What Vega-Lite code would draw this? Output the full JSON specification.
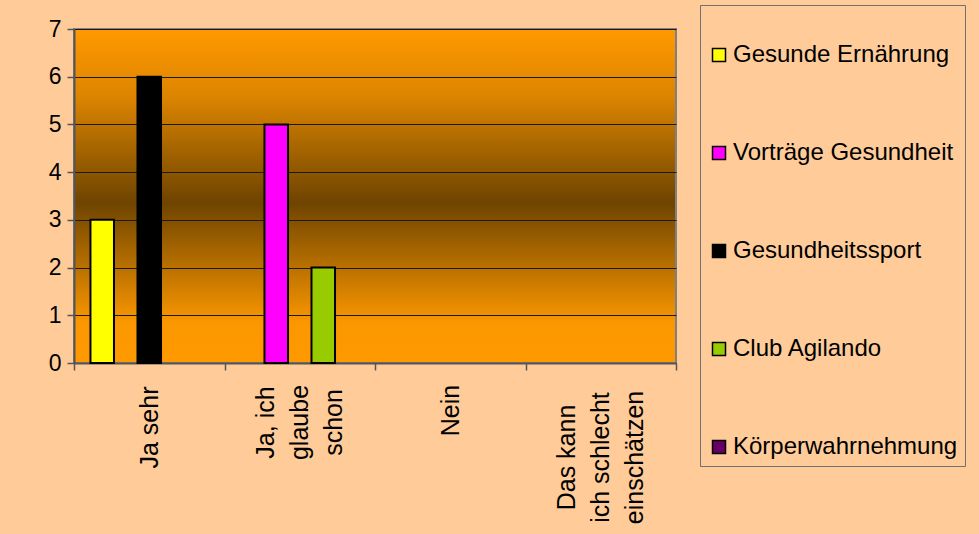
{
  "$schema": "https://vega.github.io/schema/vega-lite/v6.json",
  "width": 602,
  "height": 334,
  "autosize": {"type": "none"},
  "padding": {"left": 74, "top": 29, "right": 303, "bottom": 171},
  "background": "#FFCC99",
  "data": {
    "values": [
      {"antwort": "Ja sehr", "angebot": "Gesunde Ernährung", "anzahl": 3},
      {"antwort": "Ja sehr", "angebot": "Vorträge Gesundheit", "anzahl": 0},
      {"antwort": "Ja sehr", "angebot": "Gesundheitssport", "anzahl": 6},
      {"antwort": "Ja sehr", "angebot": "Club Agilando", "anzahl": 0},
      {"antwort": "Ja sehr", "angebot": "Körperwahrnehmung", "anzahl": 0},
      {"antwort": "Ja, ich glaube schon", "angebot": "Gesunde Ernährung", "anzahl": 0},
      {"antwort": "Ja, ich glaube schon", "angebot": "Vorträge Gesundheit", "anzahl": 5},
      {"antwort": "Ja, ich glaube schon", "angebot": "Gesundheitssport", "anzahl": 0},
      {"antwort": "Ja, ich glaube schon", "angebot": "Club Agilando", "anzahl": 2},
      {"antwort": "Ja, ich glaube schon", "angebot": "Körperwahrnehmung", "anzahl": 0},
      {"antwort": "Nein", "angebot": "Gesunde Ernährung", "anzahl": 0},
      {"antwort": "Nein", "angebot": "Vorträge Gesundheit", "anzahl": 0},
      {"antwort": "Nein", "angebot": "Gesundheitssport", "anzahl": 0},
      {"antwort": "Nein", "angebot": "Club Agilando", "anzahl": 0},
      {"antwort": "Nein", "angebot": "Körperwahrnehmung", "anzahl": 0},
      {"antwort": "Das kann ich schlecht einschätzen", "angebot": "Gesunde Ernährung", "anzahl": 0},
      {"antwort": "Das kann ich schlecht einschätzen", "angebot": "Vorträge Gesundheit", "anzahl": 0},
      {"antwort": "Das kann ich schlecht einschätzen", "angebot": "Gesundheitssport", "anzahl": 0},
      {"antwort": "Das kann ich schlecht einschätzen", "angebot": "Club Agilando", "anzahl": 0},
      {"antwort": "Das kann ich schlecht einschätzen", "angebot": "Körperwahrnehmung", "anzahl": 0}
    ]
  },
  "transform": [{"filter": "datum.anzahl > 0"}],
  "mark": {"type": "bar", "stroke": "#000000", "strokeWidth": 2},
  "encoding": {
    "x": {
      "field": "antwort",
      "type": "nominal",
      "sort": ["Ja sehr", "Ja, ich glaube schon", "Nein", "Das kann ich schlecht einschätzen"],
      "scale": {"domain": ["Ja sehr", "Ja, ich glaube schon", "Nein", "Das kann ich schlecht einschätzen"], "paddingInner": 0, "paddingOuter": 0},
      "axis": {
        "title": null,
        "labelAngle": -90,
        "labelAlign": "center",
        "labelBaseline": "middle",
        "labelPadding": {"condition": [
          {"test": "datum.value == 'Ja sehr'", "value": 57},
          {"test": "datum.value == 'Ja, ich glaube schon'", "value": 52},
          {"test": "datum.value == 'Nein'", "value": 40}
        ], "value": 87},
        "labelFontSize": 25,
        "labelLineHeight": 34,
        "labelOffset": {"condition": {"test": "datum.value == 'Ja, ich glaube schon' || datum.value == 'Das kann ich schlecht einschätzen'", "value": -34}, "value": 0},
        "labelExpr": "datum.value == 'Ja, ich glaube schon' ? ['Ja, ich', 'glaube', 'schon'] : datum.value == 'Das kann ich schlecht einschätzen' ? ['Das kann', 'ich schlecht', 'einschätzen'] : datum.value",
        "tickBand": "extent",
        "tickSize": 7,
        "grid": false
      }
    },
    "xOffset": {
      "field": "angebot",
      "type": "nominal",
      "scale": {"domain": ["Gesunde Ernährung", "Vorträge Gesundheit", "Gesundheitssport", "Club Agilando", "Körperwahrnehmung"], "paddingInner": 0, "paddingOuter": 0.7}
    },
    "y": {
      "field": "anzahl",
      "type": "quantitative",
      "scale": {"domain": [0, 7], "nice": false},
      "axis": {
        "title": null,
        "values": [0, 1, 2, 3, 4, 5, 6, 7],
        "labelFontSize": 23,
        "labelPadding": 6,
        "tickSize": 7,
        "grid": true,
        "gridColor": "#1a1a1a",
        "gridWidth": 1,
        "gridOpacity": 1
      }
    },
    "color": {
      "field": "angebot",
      "type": "nominal",
      "scale": {
        "domain": ["Gesunde Ernährung", "Vorträge Gesundheit", "Gesundheitssport", "Club Agilando", "Körperwahrnehmung"],
        "range": ["#FFFF00", "#FF00FF", "#000000", "#99CC00", "#660066"]
      },
      "legend": {
        "orient": "none",
        "legendX": 626,
        "legendY": -24,
        "title": " ",
        "titleFontSize": 20,
        "titlePadding": 11,
        "padding": 7,
        "fillColor": "#FFCC99",
        "strokeColor": "#707070",
        "symbolType": "square",
        "symbolSize": 169,
        "symbolStrokeColor": "#000000",
        "symbolStrokeWidth": 1.5,
        "symbolOpacity": 1,
        "labelFontSize": 24,
        "labelOffset": 2,
        "labelLimit": 400,
        "rowPadding": 74
      }
    }
  },
  "config": {
    "font": "Liberation Sans",
    "view": {
      "fill": {
        "gradient": "linear",
        "x1": 0, "y1": 0, "x2": 0, "y2": 1,
        "stops": [
          {"offset": 0, "color": "#FF9900"},
          {"offset": 0.2, "color": "#DD8500"},
          {"offset": 0.52, "color": "#6E4400"},
          {"offset": 0.88, "color": "#FB9700"},
          {"offset": 1, "color": "#FF9900"}
        ]
      },
      "stroke": "#808080",
      "strokeWidth": 2
    },
    "axis": {
      "labelFont": "Liberation Sans",
      "labelColor": "#000000",
      "domainColor": "#555555",
      "domainWidth": 2,
      "tickColor": "#555555",
      "tickWidth": 1.5
    },
    "legend": {
      "labelFont": "Liberation Sans",
      "labelColor": "#000000"
    }
  }
}
